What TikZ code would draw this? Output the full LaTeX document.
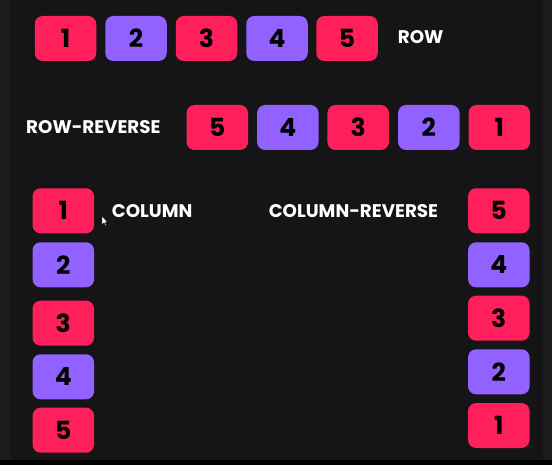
\documentclass[tikz,border=0pt]{standalone}
\usepackage{fontspec}
\setmainfont{Poppins}
\definecolor{bg}{HTML}{151416}
\definecolor{strip}{HTML}{1B1A1C}
\definecolor{boxred}{HTML}{FF1F5A}
\definecolor{boxpurple}{HTML}{9162FF}
\begin{document}
\begin{tikzpicture}[x=1pt,y=-1pt,
  box/.style={rounded corners=8pt, minimum width=61.5pt, minimum height=45pt, inner sep=0pt, font=\fontsize{25}{25}\selectfont\bfseries, text=black},
  redbox/.style={box, fill=boxred},
  purplebox/.style={box, fill=boxpurple},
  lbl/.style={text=white, font=\fontsize{18.3}{18.3}\selectfont\bfseries, inner sep=0pt}]
\fill[bg] (0,0) rectangle (552,465);
\useasboundingbox (0,0) rectangle (552,465);
\fill[strip] (0,0) rectangle (11,460);
\fill[strip] (543,0) rectangle (552,460);
\fill[black] (0,460) rectangle (552,465);
% row
\node[redbox] (r1) at (65.5,38.5) {1};
\node[purplebox] (r2) at (136,38.5) {2};
\node[redbox] (r3) at (206.5,38.5) {3};
\node[purplebox] (r4) at (277,38.5) {4};
\node[redbox] (r5) at (347,38.5) {5};
\node[lbl, anchor=west] (rowlbl) at (397.7,37.5) {ROW};
% row-reverse
\node[lbl, anchor=west] (rrlbl) at (26,127) {ROW-REVERSE};
\node[redbox] (rr5) at (217.3,127.5) {5};
\node[purplebox] (rr4) at (287.8,127.5) {4};
\node[redbox] (rr3) at (358.2,127.5) {3};
\node[purplebox] (rr2) at (428.8,127.5) {2};
\node[redbox] (rr1) at (499.3,127.5) {1};
% column
\node[redbox] (c1) at (63.3,210.8) {1};
\node[purplebox] (c2) at (63.3,264.8) {2};
\node[redbox] (c3) at (63.3,323.2) {3};
\node[purplebox] (c4) at (63.3,376.8) {4};
\node[redbox] (c5) at (63.3,430.2) {5};
\node[lbl, anchor=west] (collbl) at (111.7,211.5) {COLUMN};
% column-reverse
\node[lbl, anchor=east] (crlbl) at (438.3,211.5) {COLUMN-REVERSE};
\node[redbox] (cr5) at (498.8,210.8) {5};
\node[purplebox] (cr4) at (498.8,264.8) {4};
\node[redbox] (cr3) at (498.8,318.2) {3};
\node[purplebox] (cr2) at (498.8,371.8) {2};
\node[redbox] (cr1) at (498.8,425.5) {1};
% mouse cursor
\filldraw[fill=white, draw=black, line width=0.4pt] (102,216) -- (102,225) -- (104,223) -- (105.5,226) -- (106.5,225.5) -- (105.2,222.6) -- (107.8,222.6) -- cycle;
\end{tikzpicture}
\end{document}
